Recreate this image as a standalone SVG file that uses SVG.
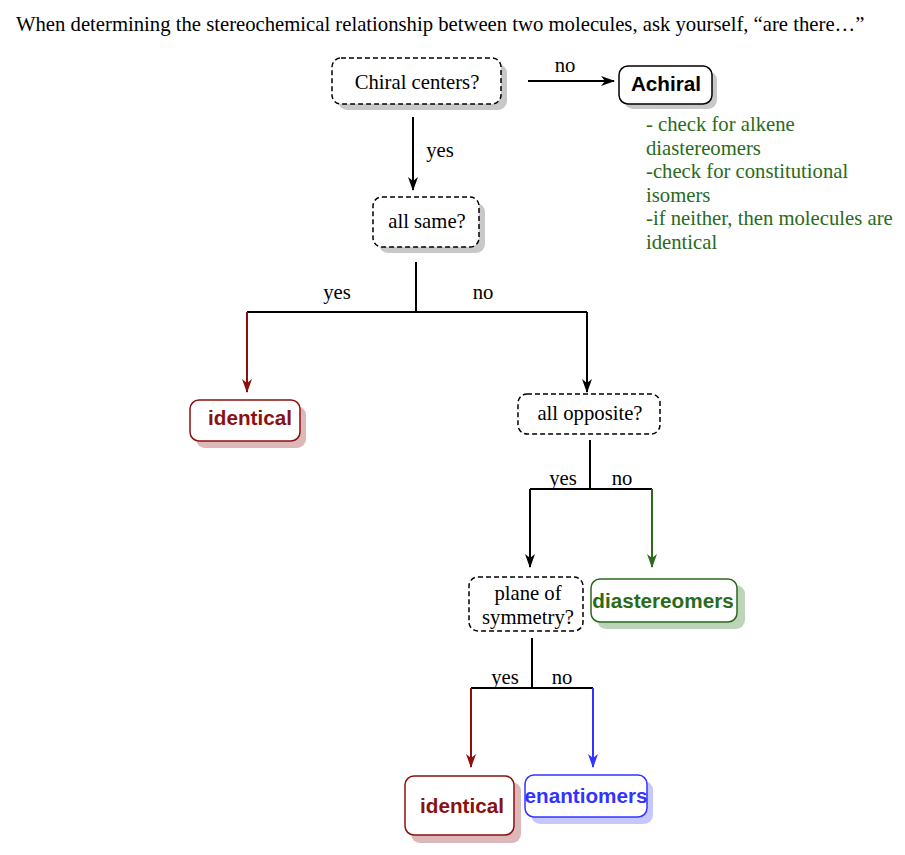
<svg xmlns="http://www.w3.org/2000/svg" width="905" height="855" viewBox="0 0 905 855">
<style>
.t{font-family:"Liberation Serif",serif;font-size:20.7px;fill:#000}
.g{font-family:"Liberation Serif",serif;font-size:20.7px;fill:#2a6a1a}
.b{font-family:"Liberation Sans",sans-serif;font-size:20.7px;font-weight:bold}
.q{fill:#fff;stroke:#000;stroke-width:1.5;stroke-dasharray:5 3}
.l{fill:none;stroke:#000;stroke-width:2}
</style>
<defs>
<marker id="ak" viewBox="0 0 14 10" refX="13" refY="5" markerWidth="14" markerHeight="10" orient="auto" markerUnits="userSpaceOnUse"><path d="M0,0 L14,5 L0,10 L4,5 z" fill="#000"/></marker>
<marker id="ar" viewBox="0 0 14 10" refX="13" refY="5" markerWidth="14" markerHeight="10" orient="auto" markerUnits="userSpaceOnUse"><path d="M0,0 L14,5 L0,10 L4,5 z" fill="#8b1010"/></marker>
<marker id="ag" viewBox="0 0 14 10" refX="13" refY="5" markerWidth="14" markerHeight="10" orient="auto" markerUnits="userSpaceOnUse"><path d="M0,0 L14,5 L0,10 L4,5 z" fill="#2a6a1a"/></marker>
<marker id="ab" viewBox="0 0 14 10" refX="13" refY="5" markerWidth="14" markerHeight="10" orient="auto" markerUnits="userSpaceOnUse"><path d="M0,0 L14,5 L0,10 L4,5 z" fill="#3333ff"/></marker>
</defs>
<rect width="905" height="855" fill="#fff"/>
<text class="t" x="16" y="31">When determining the stereochemical relationship between two molecules, ask yourself, “are there…”</text>

<g id="connectors">
<line class="l" x1="528" y1="81" x2="614" y2="81" marker-end="url(#ak)"/>
<line class="l" x1="413" y1="117" x2="413" y2="190" marker-end="url(#ak)"/>
<polyline class="l" points="416,262 416,312"/>
<line class="l" x1="247" y1="312" x2="587" y2="312"/>
<polyline fill="none" stroke="#8b1010" stroke-width="2" points="247,312 247,392" marker-end="url(#ar)"/>
<polyline class="l" points="587,312 587,392" marker-end="url(#ak)"/>
<line class="l" x1="590" y1="440" x2="590" y2="489"/>
<line class="l" x1="530" y1="489" x2="652" y2="489"/>
<polyline class="l" points="530,489 530,567" marker-end="url(#ak)"/>
<polyline fill="none" stroke="#2a6a1a" stroke-width="2" points="652,489 652,567" marker-end="url(#ag)"/>
<line class="l" x1="532" y1="638" x2="532" y2="688"/>
<line class="l" x1="471" y1="688" x2="593" y2="688"/>
<polyline fill="none" stroke="#8b1010" stroke-width="2" points="471,688 471,767" marker-end="url(#ar)"/>
<polyline fill="none" stroke="#3333ff" stroke-width="2" points="593,688 593,767" marker-end="url(#ab)"/>
<text class="t" x="565" y="72" text-anchor="middle">no</text>
<text class="t" x="440" y="157" text-anchor="middle">yes</text>
<text class="t" x="337" y="299" text-anchor="middle">yes</text>
<text class="t" x="483" y="299" text-anchor="middle">no</text>
<text class="t" x="563" y="485" text-anchor="middle">yes</text>
<text class="t" x="622" y="485" text-anchor="middle">no</text>
<text class="t" x="505" y="684" text-anchor="middle">yes</text>
<text class="t" x="562" y="684" text-anchor="middle">no</text>
</g>

<g id="chiral">
<rect x="338" y="64" width="169" height="46" rx="9" fill="#c8c8c8"/>
<rect class="q" x="332" y="58" width="169" height="46" rx="9"/>
<text class="t" x="417" y="89" text-anchor="middle">Chiral centers?</text>
</g>
<g id="achiral">
<rect x="624" y="71" width="93" height="38" rx="9" fill="#c8c8c8"/>
<rect x="619" y="66" width="93" height="38" rx="9" fill="#fff" stroke="#000" stroke-width="1.5"/>
<text class="b" x="666" y="91" text-anchor="middle" fill="#000">Achiral</text>
</g>
<g id="note">
<text class="g" x="646" y="131">- check for alkene</text>
<text class="g" x="646" y="155">diastereomers</text>
<text class="g" x="646" y="178">-check for constitutional</text>
<text class="g" x="646" y="202">isomers</text>
<text class="g" x="646" y="225">-if neither, then molecules are</text>
<text class="g" x="646" y="249">identical</text>
</g>
<g id="allsame">
<rect x="379" y="203" width="106" height="50" rx="9" fill="#c8c8c8"/>
<rect class="q" x="373" y="197" width="106" height="50" rx="9"/>
<text class="t" x="427" y="228" text-anchor="middle">all same?</text>
</g>
<g id="identical1">
<rect x="196" y="406" width="110" height="42" rx="9" fill="#ddb8b8"/>
<rect x="190" y="400" width="110" height="41" rx="9" fill="#fff" stroke="#8b1010" stroke-width="1.5"/>
<text class="b" x="250" y="425" text-anchor="middle" fill="#8b1010">identical</text>
</g>
<g id="allopposite">
<rect class="q" x="518" y="394" width="142" height="40" rx="9"/>
<text class="t" x="590" y="420" text-anchor="middle">all opposite?</text>
</g>
<g id="plane">
<rect class="q" x="469" y="577" width="114" height="54" rx="9"/>
<text class="t" x="528" y="600" text-anchor="middle">plane of</text>
<text class="t" x="528" y="624" text-anchor="middle">symmetry?</text>
</g>
<g id="diastereomers">
<rect x="597" y="585" width="148" height="44" rx="9" fill="#bcd4b8"/>
<rect x="591" y="579" width="146" height="43" rx="9" fill="#fff" stroke="#2a6a1a" stroke-width="1.5"/>
<text class="b" x="663" y="608" text-anchor="middle" fill="#2a6a1a">diastereomers</text>
</g>
<g id="identical2">
<rect x="411" y="782" width="110" height="61" rx="9" fill="#ddb8b8"/>
<rect x="405" y="776" width="109" height="59" rx="9" fill="#fff" stroke="#8b1010" stroke-width="1.5"/>
<text class="b" x="462" y="813" text-anchor="middle" fill="#8b1010">identical</text>
</g>
<g id="enantiomers">
<rect x="531" y="781" width="122" height="43" rx="9" fill="#c4c8ff"/>
<rect x="525" y="775" width="122" height="42" rx="9" fill="#fff" stroke="#3333ff" stroke-width="1.5"/>
<text class="b" x="586" y="803" text-anchor="middle" fill="#3333ff">enantiomers</text>
</g>
</svg>
